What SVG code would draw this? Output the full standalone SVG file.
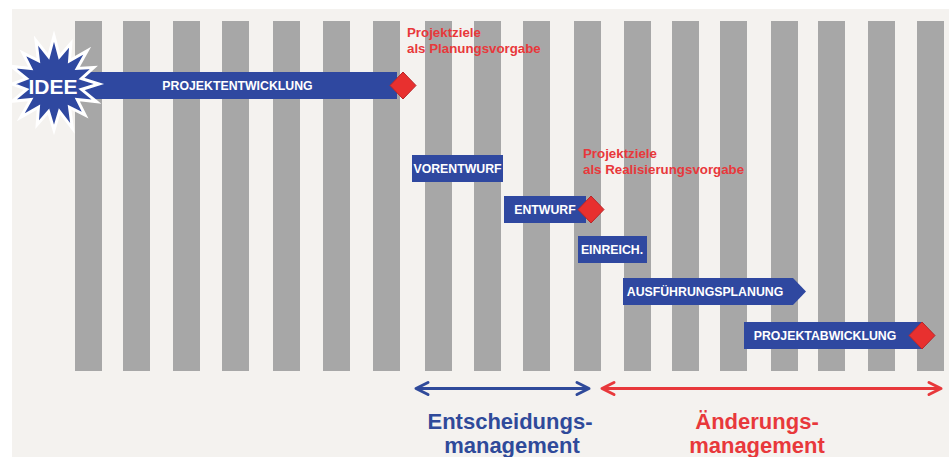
<svg xmlns="http://www.w3.org/2000/svg" width="949" height="457" viewBox="0 0 949 457">
<style>
.bar{fill:#a7a7a7}
.box{fill:#2f48a0}
.dia{fill:#e8302f;stroke:#b8262a;stroke-width:1}
.lbl{font-family:"Liberation Sans",Arial,sans-serif;font-weight:bold;font-size:12.3px;fill:#ffffff;text-anchor:middle}
.note{font-family:"Liberation Sans",Arial,sans-serif;font-weight:bold;font-size:13.3px;fill:#e8383b}
.big{font-family:"Liberation Sans",Arial,sans-serif;font-weight:bold;font-size:22px;text-anchor:middle}
</style>
<defs>
<marker id="mb" markerUnits="userSpaceOnUse" viewBox="-16 -9 18 18" refX="0" refY="0" markerWidth="18" markerHeight="18" orient="auto-start-reverse" overflow="visible">
<path d="M-12,-6 L0,0 L-12,6" fill="none" stroke="#2f4a9a" stroke-width="3" stroke-linecap="round" stroke-linejoin="round"/>
</marker>
<marker id="mr" markerUnits="userSpaceOnUse" viewBox="-16 -9 18 18" refX="0" refY="0" markerWidth="18" markerHeight="18" orient="auto-start-reverse" overflow="visible">
<path d="M-12,-6 L0,0 L-12,6" fill="none" stroke="#e8383b" stroke-width="3" stroke-linecap="round" stroke-linejoin="round"/>
</marker>
</defs>
<rect x="0" y="0" width="949" height="457" fill="#ffffff"/>
<rect x="12" y="9" width="937" height="448" fill="#f4f2ef"/>
<g id="columns">
<rect class="bar" x="75" y="21" width="27" height="350"/>
<rect class="bar" x="123" y="21" width="27" height="350"/>
<rect class="bar" x="173" y="21" width="27" height="350"/>
<rect class="bar" x="222" y="21" width="27" height="350"/>
<rect class="bar" x="273" y="21" width="27" height="350"/>
<rect class="bar" x="323" y="21" width="27" height="350"/>
<rect class="bar" x="373" y="21" width="27" height="350"/>
<rect class="bar" x="425" y="21" width="27" height="350"/>
<rect class="bar" x="474" y="21" width="27" height="350"/>
<rect class="bar" x="523" y="21" width="27" height="350"/>
<rect class="bar" x="574" y="21" width="27" height="350"/>
<rect class="bar" x="624" y="21" width="27" height="350"/>
<rect class="bar" x="672" y="21" width="27" height="350"/>
<rect class="bar" x="720" y="21" width="27" height="350"/>
<rect class="bar" x="771" y="21" width="27" height="350"/>
<rect class="bar" x="818" y="21" width="27" height="350"/>
<rect class="bar" x="868" y="21" width="27" height="350"/>
<rect class="bar" x="917" y="21" width="27" height="350"/>
</g>
<g id="projektentwicklung">
<rect class="box" x="60" y="72" width="337" height="27"/>
<text class="lbl" x="237.5" y="90">PROJEKTENTWICKLUNG</text>
<polygon class="dia" points="403,72 416,85.5 403,99 390,85.5"/>
</g>
<g id="idee">
<polygon transform="translate(54,84)" fill="#2f48a0" stroke="#ffffff" stroke-width="3" stroke-linejoin="miter" points="0,-48 5.46,-27.46 16.84,-40.65 15.55,-23.28 33.23,-33.23 23.28,-15.55 39.73,-16.46 27.46,-5.46 45,0 27.46,5.46 42.5,17.6 23.28,15.55 31.11,31.11 15.55,23.28 18.37,44.35 5.46,27.46 0,46 -5.46,27.46 -16.84,40.65 -15.55,23.28 -33.23,33.23 -23.28,15.55 -41.58,17.22 -27.46,5.46 -42,0 -27.46,-5.46 -42.5,-17.6 -23.28,-15.55 -31.11,-31.11 -15.55,-23.28 -17.99,-43.42 -5.46,-27.46"/>
<text x="53" y="94" font-family="Liberation Sans, Arial, sans-serif" font-weight="bold" font-size="21" fill="#ffffff" text-anchor="middle">IDEE</text>
</g>
<g id="note-planung">
<text class="note" x="407" y="37">Projektziele</text>
<text class="note" x="407" y="53">als Planungsvorgabe</text>
</g>
<g id="note-realisierung">
<text class="note" x="583" y="158">Projektziele</text>
<text class="note" x="583" y="174">als Realisierungsvorgabe</text>
</g>
<g id="vorentwurf">
<rect class="box" x="412" y="155" width="91" height="27"/>
<text class="lbl" x="457.5" y="173">VORENTWURF</text>
</g>
<g id="entwurf">
<rect class="box" x="504" y="196" width="82" height="27"/>
<text class="lbl" x="545" y="214">ENTWURF</text>
<polygon class="dia" points="591,196 604,209.5 591,223 578,209.5"/>
</g>
<g id="einreich">
<rect class="box" x="578" y="236" width="69" height="27"/>
<text class="lbl" x="612" y="254">EINREICH.</text>
</g>
<g id="ausfuehrungsplanung">
<polygon class="box" points="623,278 793,278 806,291.5 793,305 623,305"/>
<text class="lbl" x="705" y="296">AUSFÜHRUNGSPLANUNG</text>
</g>
<g id="projektabwicklung">
<rect class="box" x="744" y="322" width="178" height="27"/>
<text class="lbl" x="825" y="340">PROJEKTABWICKLUNG</text>
<polygon class="dia" points="922,322 935,335.5 922,349 909,335.5"/>
</g>
<g id="connectors">
<line x1="416" y1="388.5" x2="589" y2="388.5" stroke="#2f4a9a" stroke-width="3" marker-start="url(#mb)" marker-end="url(#mb)"/>
<line x1="602" y1="388.5" x2="941" y2="388.5" stroke="#e8383b" stroke-width="3" marker-start="url(#mr)" marker-end="url(#mr)"/>
</g>
<g id="entscheidungsmanagement">
<text class="big" x="510" y="429" fill="#2f4a9a">Entscheidungs-</text>
<text class="big" x="512" y="453" fill="#2f4a9a">management</text>
</g>
<g id="aenderungsmanagement">
<text class="big" x="757" y="429" fill="#e8383b">Änderungs-</text>
<text class="big" x="757" y="453" fill="#e8383b">management</text>
</g>
</svg>
